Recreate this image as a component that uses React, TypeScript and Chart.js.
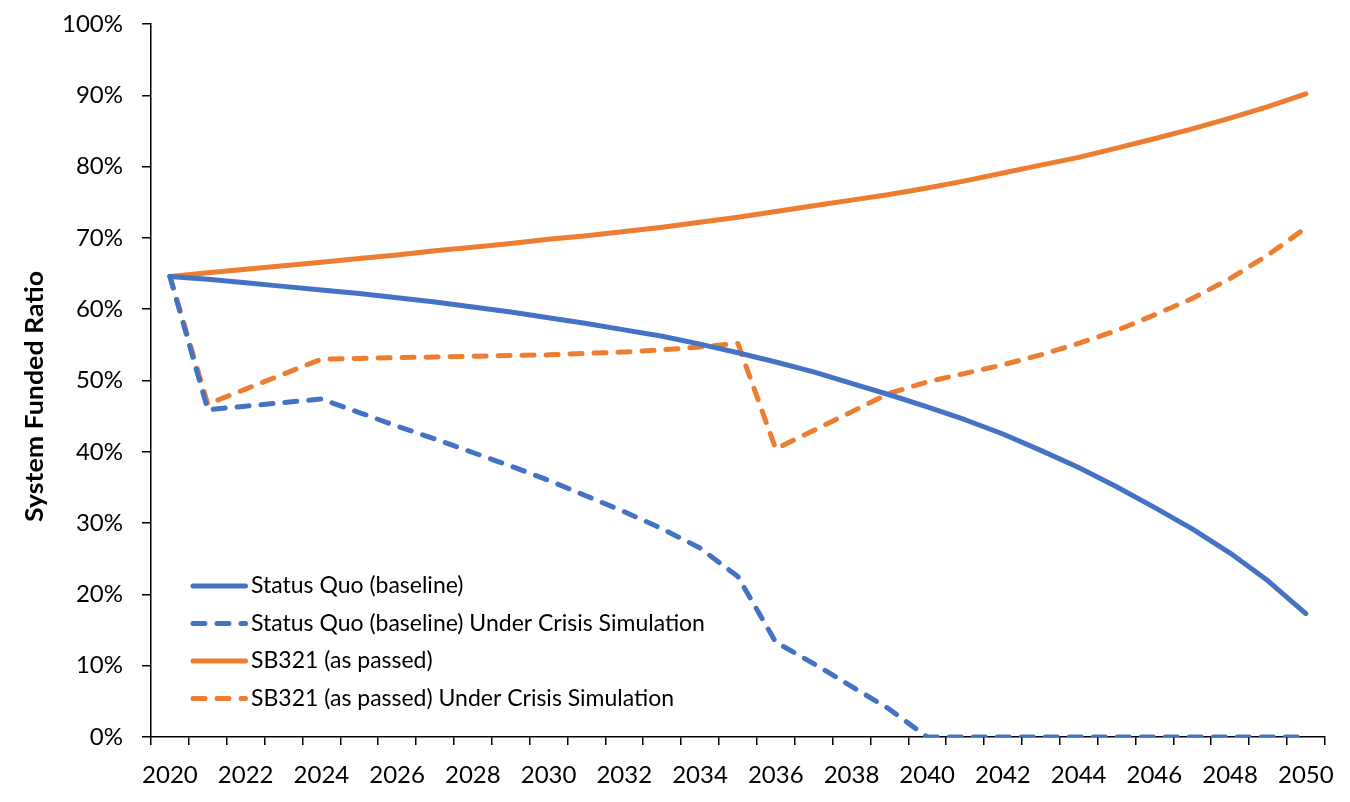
import React, { useEffect, useRef } from 'react';
import { Chart, registerables } from 'chart.js';

Chart.register(...registerables);

const years = [
  '2020', '2021', '2022', '2023', '2024', '2025', '2026', '2027', '2028', '2029',
  '2030', '2031', '2032', '2033', '2034', '2035', '2036', '2037', '2038', '2039',
  '2040', '2041', '2042', '2043', '2044', '2045', '2046', '2047', '2048', '2049', '2050',
];

const statusQuo = [
  64.6, 64.2, 63.7, 63.2, 62.7, 62.2, 61.6, 61.0, 60.3, 59.6,
  58.8, 58.0, 57.1, 56.2, 55.1, 53.9, 52.6, 51.2, 49.6, 48.0,
  46.3, 44.5, 42.5, 40.2, 37.8, 35.1, 32.2, 29.2, 25.8, 21.9, 17.3,
];

const statusQuoCrisis = [
  64.6, 45.9, 46.4, 46.9, 47.4, 45.5, 43.6, 41.8, 39.9, 38.0,
  36.0, 33.8, 31.6, 29.2, 26.5, 22.5, 13.3, 10.3, 7.1, 3.9,
  0, 0, 0, 0, 0, 0, 0, 0, 0, 0, 0,
];

const sb321 = [
  64.6, 65.1, 65.6, 66.1, 66.6, 67.1, 67.6, 68.2, 68.7, 69.2,
  69.8, 70.3, 70.9, 71.5, 72.2, 72.9, 73.7, 74.5, 75.3, 76.1,
  77.0, 78.0, 79.1, 80.2, 81.3, 82.6, 83.9, 85.3, 86.8, 88.4, 90.2,
];

const sb321Crisis = [
  64.6, 46.7, 48.8, 50.9, 53.0, 53.1, 53.2, 53.3, 53.4, 53.5,
  53.6, 53.8, 54.0, 54.3, 54.7, 55.2, 40.4, 43.0, 45.6, 48.2,
  49.8, 51.0, 52.2, 53.6, 55.2, 57.0, 59.2, 61.5, 64.3, 67.6, 71.4,
];

const seriesNames = [
  'Status Quo (baseline)',
  'Status Quo (baseline) Under Crisis Simulation',
  'SB321 (as passed)',
  'SB321 (as passed) Under Crisis Simulation',
];

const yAxisTitle = 'System Funded Ratio';

const BLUE = '#4472C4';
const ORANGE = '#ED7D31';
const FONT = 'Lato, "Open Sans", sans-serif';
const DASH = [12, 12];

const legendPlugin = {
  id: 'excelLegend',
  afterDatasetsDraw(chart: any) {
    const ctx = chart.ctx;
    const area = chart.chartArea;
    const x0 = area.left + 42;
    const x1 = area.left + 94.5;
    const tx = area.left + 100;
    const rows = [151, 113.5, 76, 38.5].map((d) => area.bottom - d);
    chart.data.datasets.forEach((ds: any, i: number) => {
      ctx.save();
      ctx.strokeStyle = ds.borderColor;
      ctx.lineWidth = 5;
      ctx.lineCap = 'round';
      ctx.setLineDash(ds.borderDash || []);
      ctx.beginPath();
      ctx.moveTo(x0, rows[i]);
      ctx.lineTo(x1, rows[i]);
      ctx.stroke();
      ctx.setLineDash([]);
      ctx.fillStyle = '#000';
      ctx.font = `23px ${FONT}`;
      ctx.textBaseline = 'middle';
      ctx.textAlign = 'left';
      ctx.fillText(ds.label, tx, rows[i]);
      ctx.restore();
    });
  },
};

const titlePlugin = {
  id: 'yTitle',
  afterDraw(chart: any) {
    const ctx = chart.ctx;
    const area = chart.chartArea;
    ctx.save();
    ctx.translate(35, (area.top + area.bottom) / 2 + 16);
    ctx.rotate(-Math.PI / 2);
    ctx.fillStyle = '#000';
    ctx.font = `bold 24px ${FONT}`;
    const w = ctx.measureText(yAxisTitle).width;
    const stretch = w > 0 ? Math.min(1.2, 251 / w) : 1;
    ctx.scale(stretch, 1);
    ctx.textAlign = 'center';
    ctx.textBaseline = 'middle';
    ctx.fillText(yAxisTitle, 0, 0);
    ctx.restore();
  },
};

export default function App() {
  const ref = useRef<HTMLCanvasElement | null>(null);

  useEffect(() => {
    if (!ref.current) return;
    const mk = (label: string, data: number[], color: string, dashed: boolean) => ({
      label,
      data,
      borderColor: color,
      backgroundColor: color,
      borderWidth: 5,
      borderDash: dashed ? DASH : [],
      borderCapStyle: 'round' as const,
      borderJoinStyle: 'round' as const,
      pointRadius: 0,
      tension: 0,
      fill: false,
    });
    const chart = new Chart(ref.current, {
      type: 'line',
      data: {
        labels: years,
        datasets: [
          mk(seriesNames[0], statusQuo, BLUE, false),
          mk(seriesNames[1], statusQuoCrisis, BLUE, true),
          mk(seriesNames[2], sb321, ORANGE, false),
          mk(seriesNames[3], sb321Crisis, ORANGE, true),
        ],
      },
      options: {
        animation: false,
        responsive: false,
        layout: { padding: { top: 24, right: 21, left: 0, bottom: 0 } },
        plugins: {
          legend: { display: false },
          tooltip: { enabled: false },
        },
        scales: {
          x: {
            type: 'category',
            offset: true,
            grid: {
              display: true,
              offset: true,
              drawOnChartArea: false,
              drawTicks: true,
              tickLength: 8,
              color: '#000',
              lineWidth: 1.5,
            },
            border: { display: true, color: '#000', width: 1.5 },
            ticks: {
              autoSkip: false,
              maxRotation: 0,
              minRotation: 0,
              padding: 16,
              color: '#000',
              font: { family: FONT, size: 24 },
              callback: (_v: any, i: number) => (i % 2 === 0 ? years[i] : ''),
            },
            afterFit: (s: any) => {
              s.height = 65;
            },
          },
          y: {
            min: 0,
            max: 100,
            ticks: {
              stepSize: 10,
              padding: 19,
              color: '#000',
              font: { family: FONT, size: 24 },
              callback: (v: any) => `${v}%`,
            },
            grid: {
              display: true,
              drawOnChartArea: false,
              drawTicks: true,
              tickLength: 9,
              color: '#000',
              lineWidth: 1.5,
            },
            border: { display: true, color: '#000', width: 1.5 },
            afterFit: (s: any) => {
              s.width = 151;
              s.paddingTop = 8;
              s.paddingBottom = 8;
            },
          },
        },
      },
      plugins: [legendPlugin, titlePlugin],
    });
    return () => chart.destroy();
  }, []);

  return (
    <div style={{ position: 'absolute', left: 0, top: 0, width: 1350, height: 802, background: '#fff' }}>
      <canvas ref={ref} width={1350} height={802} />
    </div>
  );
}
